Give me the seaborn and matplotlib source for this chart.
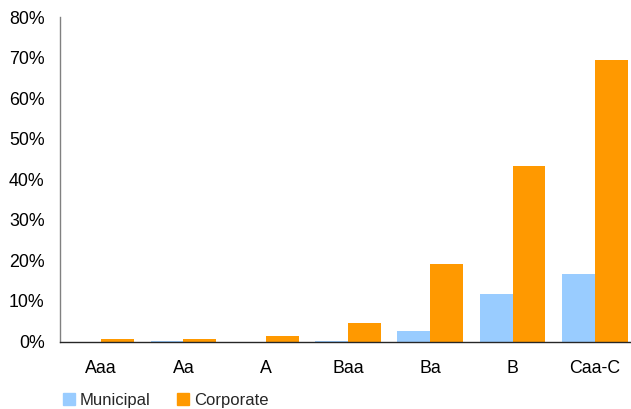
import matplotlib
matplotlib.use("Agg")
import matplotlib.pyplot as plt
import matplotlib.patches as mpatches
from matplotlib.ticker import FuncFormatter, MultipleLocator
import pandas as pd
import seaborn as sns

# Cumulative default rates by rating category (%)
ratings = ["Aaa", "Aa", "A", "Baa", "Ba", "B", "Caa-C"]
municipal = [0.0, 0.1, 0.0, 0.1, 2.6, 11.7, 16.7]
corporate = [0.6, 0.6, 1.4, 4.6, 19.1, 43.3, 69.3]
series_names = ["Municipal", "Corporate"]
colors = {"Municipal": "#99CCFF", "Corporate": "#FF9900"}

df = pd.DataFrame({
    "rating": ratings * 2,
    "rate": municipal + corporate,
    "sector": [series_names[0]] * len(ratings) + [series_names[1]] * len(ratings),
})

sns.set_style("white")
plt.rcParams["font.family"] = ["Liberation Sans", "DejaVu Sans"]

fig = plt.figure(figsize=(6.31, 4.09), dpi=100)
ax = fig.add_axes([60 / 631, 67.5 / 409, 576 / 631, 324.5 / 409])

sns.barplot(data=df, x="rating", y="rate", hue="sector", order=ratings,
            hue_order=series_names, palette=colors, width=0.8,
            saturation=1, linewidth=0, ax=ax, legend=False)

ax.set_xlim(-0.5, 6.5)
ax.set_ylim(0, 80)
ax.yaxis.set_major_locator(MultipleLocator(10))
ax.yaxis.set_major_formatter(FuncFormatter(lambda v, _: f"{v:.0f}%"))
ax.set_xlabel("")
ax.set_ylabel("")
ax.tick_params(axis="y", labelsize=12.8, length=0, pad=11, colors="#000000")
ax.tick_params(axis="x", labelsize=12.8, length=0, pad=13, colors="#000000")

for side in ["top", "right"]:
    ax.spines[side].set_visible(False)
ax.spines["left"].set_color("#808080")
ax.spines["left"].set_linewidth(1.0)
ax.spines["bottom"].set_color("#262626")
ax.spines["bottom"].set_linewidth(1.0)

handles = [mpatches.Patch(color=colors[n], label=n) for n in series_names]
fig.legend(handles=handles, loc="center left", bbox_to_anchor=(63 / 631, 9 / 409),
           ncol=2, frameon=False, fontsize=12, handlelength=0.7, handleheight=0.7,
           handletextpad=0.3, columnspacing=1.6, borderaxespad=0, borderpad=0)

fig.savefig("out.png", dpi=100)
